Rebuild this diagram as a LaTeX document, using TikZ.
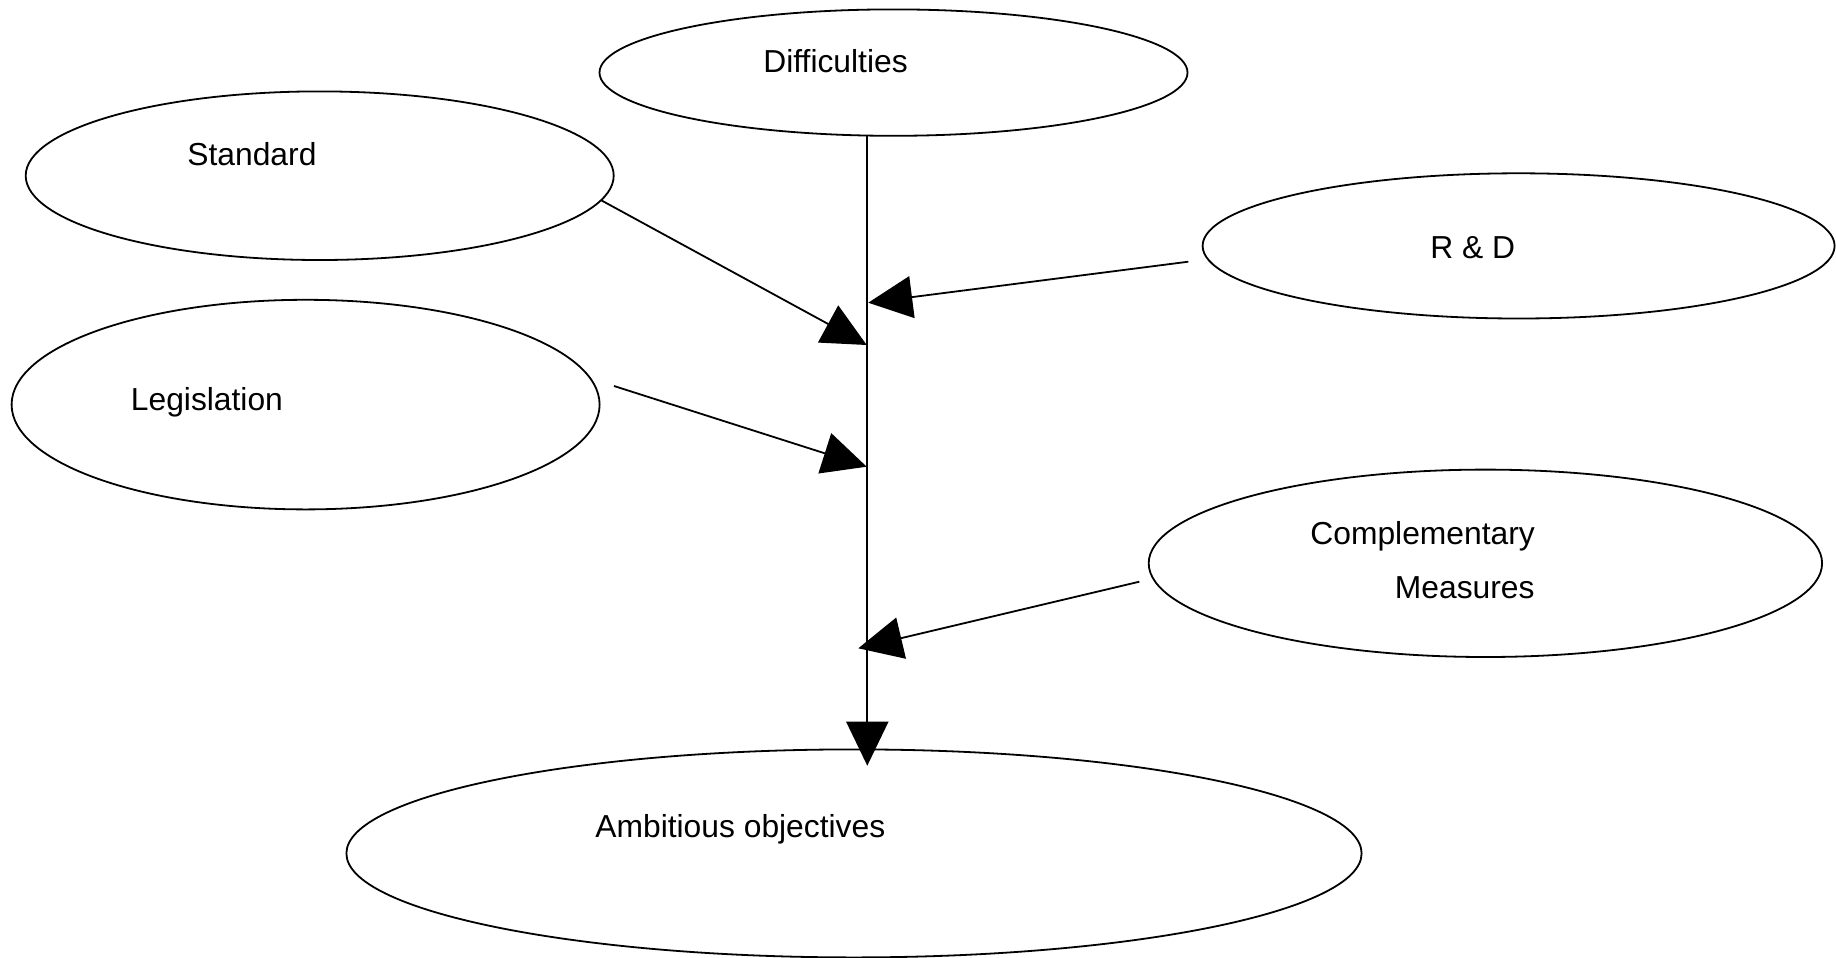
\documentclass[tikz,border=0pt]{standalone}
\usepackage{fontspec}
\setmainfont{Liberation Sans}
\usetikzlibrary{shapes.geometric,arrows.meta}
\begin{document}
\begin{tikzpicture}[x=0.5pt,y=-0.5pt,
  oval/.style={draw,ellipse,line width=0.9pt,inner sep=0pt},
  lbl/.style={anchor=base west,inner sep=0pt,font=\fontsize{15.9pt}{18pt}\selectfont},
  link/.style={line width=0.9pt,-{Triangle[length=22pt,width=21pt]}}]
\useasboundingbox (0,0) rectangle (1836,958);
% ellipses
\node[oval,minimum width=294pt,minimum height=63.2pt] (diff) at (893.5,72.6) {};
\node[oval,minimum width=294pt,minimum height=84.3pt] (std) at (319.7,175.7) {};
\node[oval,minimum width=316pt,minimum height=72.6pt] (rd) at (1518.6,245.9) {};
\node[oval,minimum width=294pt,minimum height=104.8pt] (leg) at (305.6,404.6) {};
\node[oval,minimum width=336.7pt,minimum height=93.7pt] (comp) at (1485.4,563.3) {};
\node[oval,minimum width=507.6pt,minimum height=104pt] (amb) at (854,853.4) {};
% texts
\node[lbl] (tdiff) at (763,72.7) {Difficulties};
\node[lbl] (tstd) at (187,165) {Standard};
\node[lbl] (trd) at (1430,258.3) {R \& D};
\node[lbl] (tleg) at (130.5,410) {Legislation};
\node[lbl] (tcomp) at (1310,544) {Complementary};
\node[lbl] (tmeas) at (1394.5,598.7) {Measures};
\node[lbl] (tamb) at (595,837.3) {Ambitious objectives};
% connector points
\coordinate (spineTop) at (867.3,135.6);
\coordinate (spineEnd) at (867.3,765.7);
\coordinate (stdS) at (600.7,200);
\coordinate (stdT) at (866.7,345);
\coordinate (rdS) at (1188.3,261.7);
\coordinate (rdT) at (868.3,302.7);
\coordinate (legS) at (614,386);
\coordinate (legT) at (866.7,466.7);
\coordinate (compS) at (1139.3,581.7);
\coordinate (compT) at (858.3,648.3);
% connectors
\draw[link] (spineTop) -- (spineEnd);
\draw[link] (stdS) -- (stdT);
\draw[link] (rdS) -- (rdT);
\draw[link] (legS) -- (legT);
\draw[link] (compS) -- (compT);
\end{tikzpicture}
\end{document}
